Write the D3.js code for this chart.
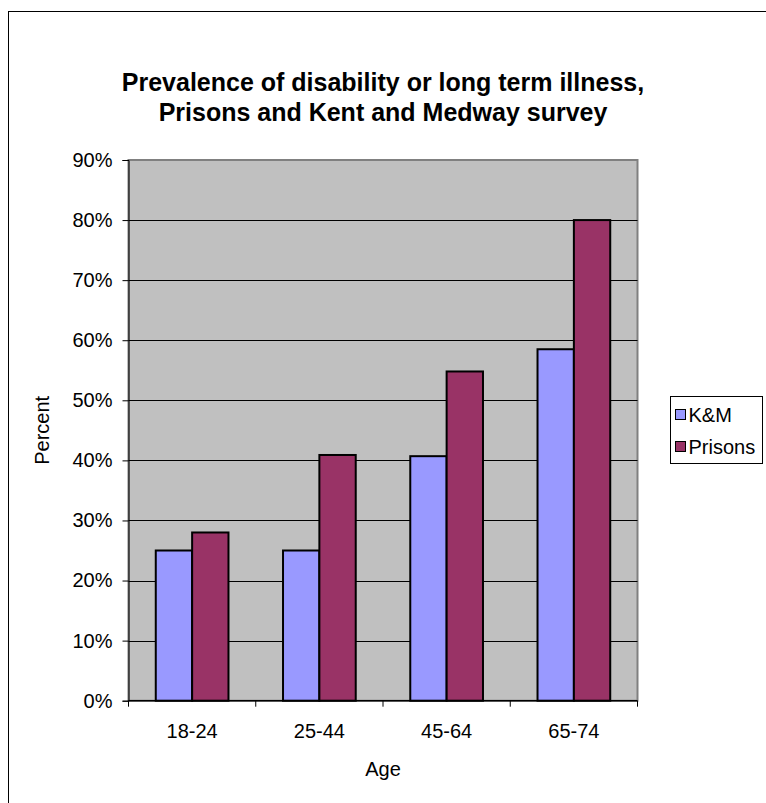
<!DOCTYPE html>
<html>
<head>
<meta charset="utf-8">
<script src="https://cdn.jsdelivr.net/npm/d3@7"></script>
<style>
  html, body { margin: 0; padding: 0; background: #fff; }
  svg { display: block; font-family: "Liberation Sans", Arial, sans-serif; }
</style>
</head>
<body>
<svg id="chart" width="766" height="803"></svg>
<script>
// Age bands and prevalence (%) per group
const categories = ["18-24", "25-44", "45-64", "65-74"];
const seriesNames = ["K&M", "Prisons"];
const kmValues = [25, 25, 40.7, 58.5];
const prisonValues = [28, 40.9, 54.8, 80];
const yTicks = [0, 10, 20, 30, 40, 50, 60, 70, 80, 90];
const seriesColors = ["#9999FF", "#993366"];

const svg = d3.select("#chart");

// Outer chart frame
svg.append("rect")
  .attr("x", 8.5).attr("y", 11.5)
  .attr("width", 800).attr("height", 820)
  .attr("fill", "#fff").attr("stroke", "#000").attr("stroke-width", 1);

const plot = { left: 128.5, top: 160, right: 637.5, bottom: 700.7 };

const x = d3.scaleBand().domain(categories).range([plot.left, plot.right]);
const inner = d3.scaleBand().domain(seriesNames)
  .range([0, x.bandwidth()]).paddingOuter(0.75).paddingInner(0);
const y = d3.scaleLinear().domain([0, 90]).range([plot.bottom, plot.top]);

// Plot background
svg.append("rect")
  .attr("x", plot.left).attr("y", plot.top)
  .attr("width", plot.right - plot.left).attr("height", plot.bottom - plot.top)
  .attr("fill", "#C0C0C0").attr("stroke", "#808080").attr("stroke-width", 2);

// Gridlines
svg.append("g").selectAll("line")
  .data(yTicks.filter(t => t > 0 && t < 90))
  .join("line")
  .attr("x1", plot.left).attr("x2", plot.right)
  .attr("y1", d => Math.round(y(d)) + 0.5).attr("y2", d => Math.round(y(d)) + 0.5)
  .attr("stroke", "#000").attr("stroke-width", 1);

// Bars
const rows = categories.map((c, i) => ({ cat: c, vals: [kmValues[i], prisonValues[i]] }));
const groups = svg.append("g").selectAll("g")
  .data(rows).join("g")
  .attr("transform", d => `translate(${x(d.cat)},0)`);
groups.selectAll("rect")
  .data(d => d.vals.map((v, j) => ({ name: seriesNames[j], v, j })))
  .join("rect")
  .attr("x", d => inner(d.name))
  .attr("width", inner.bandwidth())
  .attr("y", d => y(d.v))
  .attr("height", d => y(0) - y(d.v))
  .attr("fill", d => seriesColors[d.j])
  .attr("stroke", "#000").attr("stroke-width", 2);

// Y axis
const yAxis = d3.axisLeft(y).tickValues(yTicks).tickFormat(d => d + "%").tickSize(6).tickPadding(10);
const yg = svg.append("g").attr("transform", `translate(${plot.left},0)`).call(yAxis);
yg.select(".domain").attr("stroke", "#000");
yg.selectAll(".tick text").attr("font-size", 20).attr("fill", "#000");

// X axis with ticks at category boundaries
const xg = svg.append("g").attr("transform", `translate(0,${plot.bottom})`);
xg.append("line").attr("x1", plot.left).attr("x2", plot.right)
  .attr("stroke", "#000").attr("stroke-width", 1.5);
const bounds = categories.map(c => x(c)).concat([plot.right]);
xg.selectAll("line.tk").data(bounds).join("line").attr("class", "tk")
  .attr("x1", d => d).attr("x2", d => d).attr("y1", 0).attr("y2", 6)
  .attr("stroke", "#000");
xg.selectAll("text").data(categories).join("text")
  .attr("x", d => x(d) + x.bandwidth() / 2).attr("y", 37)
  .attr("text-anchor", "middle").attr("font-size", 20).text(d => d);

// Axis titles
svg.append("text").attr("x", 383).attr("y", 776)
  .attr("text-anchor", "middle").attr("font-size", 20).text("Age");
svg.append("text")
  .attr("transform", `translate(49,${(plot.top + plot.bottom) / 2}) rotate(-90)`)
  .attr("text-anchor", "middle").attr("font-size", 20).text("Percent");

// Title
const title = svg.append("text").attr("text-anchor", "middle")
  .attr("font-size", 25).attr("font-weight", "bold");
title.append("tspan").attr("x", 383).attr("y", 91).text("Prevalence of disability or long term illness,");
title.append("tspan").attr("x", 383).attr("y", 121).text("Prisons and Kent and Medway survey");

// Legend
const lg = svg.append("g").attr("transform", "translate(670.5,396.5)");
lg.append("rect").attr("width", 92).attr("height", 67)
  .attr("fill", "#fff").attr("stroke", "#000").attr("stroke-width", 1);
seriesNames.forEach((n, i) => {
  lg.append("rect").attr("x", 5).attr("y", 13 + i * 32)
    .attr("width", 10).attr("height", 10)
    .attr("fill", seriesColors[i]).attr("stroke", "#000").attr("stroke-width", 1);
  lg.append("text").attr("x", 18).attr("y", 25 + i * 32)
    .attr("font-size", 20).text(n);
});
</script>
</body>
</html>
